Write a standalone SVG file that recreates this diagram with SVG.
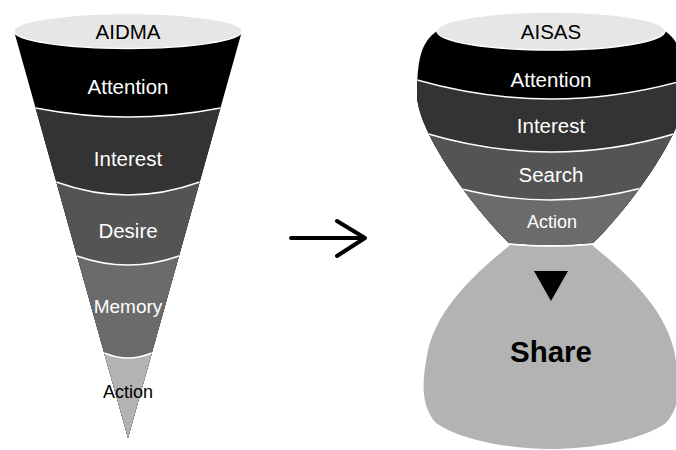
<svg xmlns="http://www.w3.org/2000/svg" width="676" height="450" viewBox="0 0 676 450">
  <style>
    text { font-family: "Liberation Sans", Arial, sans-serif; text-anchor: middle; }
    .lbl { font-size: 20.5px; fill: #ffffff; }
    .dark { fill: #000000; }
    .small { font-size: 18px; }
    .head { font-size: 20.5px; }
    .sep { fill: none; stroke: #ffffff; stroke-width: 1.6; }
    .lid { fill: #e6e6e6; stroke: #ffffff; stroke-width: 1.5; }
    .arrow { fill: none; stroke: #000000; stroke-width: 4; stroke-linecap: round; stroke-linejoin: round; }
  </style>
  <defs>
    <clipPath id="coneClip">
      <path d="M14,31 L242,31 L128,438 Z"/>
    </clipPath>
    <clipPath id="bowlClip">
      <path d="M437,31 C421,42 417,60 417,95 C417,130 470,205 509,243 Q551,247 593,243 C632,205 685,130 685,95 C685,60 681,42 665,31 Z"/>
    </clipPath>
  </defs>

  <rect width="676" height="450" fill="#ffffff"/>

  <!-- AIDMA cone -->
  <g id="aidma" clip-path="url(#coneClip)">
    <g id="aidma-attention">
      <rect x="0" y="20" width="260" height="430" fill="#000000"/>
      <text class="lbl" x="128" y="94">Attention</text>
    </g>
    <g id="aidma-interest">
      <path d="M0,108 L35.6,108 Q128,126 220.4,108 L260,108 L260,450 L0,450 Z" fill="#333333"/>
      <path class="sep" d="M35.6,108 Q128,126 220.4,108"/>
      <text class="lbl" x="128" y="166">Interest</text>
    </g>
    <g id="aidma-desire">
      <path d="M0,182 L56.3,182 Q128,208 199.7,182 L260,182 L260,450 L0,450 Z" fill="#545454"/>
      <path class="sep" d="M56.3,182 Q128,208 199.7,182"/>
      <text class="lbl" x="128" y="238">Desire</text>
    </g>
    <g id="aidma-memory">
      <path d="M0,256 L77,256 Q128,274 179,256 L260,256 L260,450 L0,450 Z" fill="#6b6b6b"/>
      <path class="sep" d="M77,256 Q128,274 179,256"/>
    </g>
    <g id="aidma-action">
      <path d="M0,353 L104.2,353 Q128,363 151.8,353 L260,353 L260,450 L0,450 Z" fill="#b3b3b3"/>
      <path class="sep" d="M104.2,353 Q128,363 151.8,353"/>
    </g>
  </g>
  <g id="aidma-lid">
    <ellipse class="lid" cx="128" cy="31" rx="114" ry="17.5"/>
    <text class="lbl dark head" x="128" y="38.5">AIDMA</text>
  </g>
  <!-- labels that overhang the narrow cone -->
  <text class="lbl" x="128" y="313" style="font-size:19px">Memory</text>
  <text class="lbl dark small" x="128" y="398">Action</text>

  <!-- AISAS bowl -->
  <g id="aisas" clip-path="url(#bowlClip)">
    <g id="aisas-attention">
      <rect x="400" y="20" width="290" height="240" fill="#000000"/>
      <text class="lbl" x="551" y="87">Attention</text>
    </g>
    <g id="aisas-interest">
      <path d="M380,80 L417,80 Q551,118 685,80 L720,80 L720,260 L380,260 Z" fill="#333333"/>
      <path class="sep" d="M417,80 Q551,118 685,80"/>
      <text class="lbl" x="551" y="133">Interest</text>
    </g>
    <g id="aisas-search">
      <path d="M380,133 L425,133 Q551,171 677,133 L720,133 L720,260 L380,260 Z" fill="#545454"/>
      <path class="sep" d="M425,133 Q551,171 677,133"/>
      <text class="lbl" x="551" y="182">Search</text>
    </g>
    <g id="aisas-action">
      <path d="M380,188 L458,188 Q550,212 642,188 L720,188 L720,260 L380,260 Z" fill="#6b6b6b"/>
      <path class="sep" d="M458,188 Q550,212 642,188"/>
      <text class="lbl small" x="552" y="228">Action</text>
    </g>
  </g>
  <g id="aisas-lid">
    <ellipse class="lid" cx="551" cy="31" rx="114" ry="19"/>
    <text class="lbl dark head" x="551" y="38.5">AISAS</text>
  </g>
  <g id="aisas-share">
    <path d="M510,245 C490,262 440,300 428,350 C422,380 420,405 436,423 C460,440 510,449 551,449 C592,449 642,440 666,423 C682,405 680,380 674,350 C662,300 612,262 592,245 Q551,248 510,245 Z" fill="#b3b3b3"/>
    <path class="sep" d="M509,244 Q551,248 593,244"/>
    <polygon points="534,271 568,271 551,301" fill="#000000"/>
    <text x="551" y="362" style="font-size:29.5px;font-weight:bold;fill:#000000">Share</text>
  </g>

  <!-- transition arrow -->
  <g id="connectors">
    <line class="arrow" x1="291" y1="238" x2="363" y2="238"/>
    <polyline class="arrow" points="337,221 365,238 337,256"/>
  </g>
</svg>
